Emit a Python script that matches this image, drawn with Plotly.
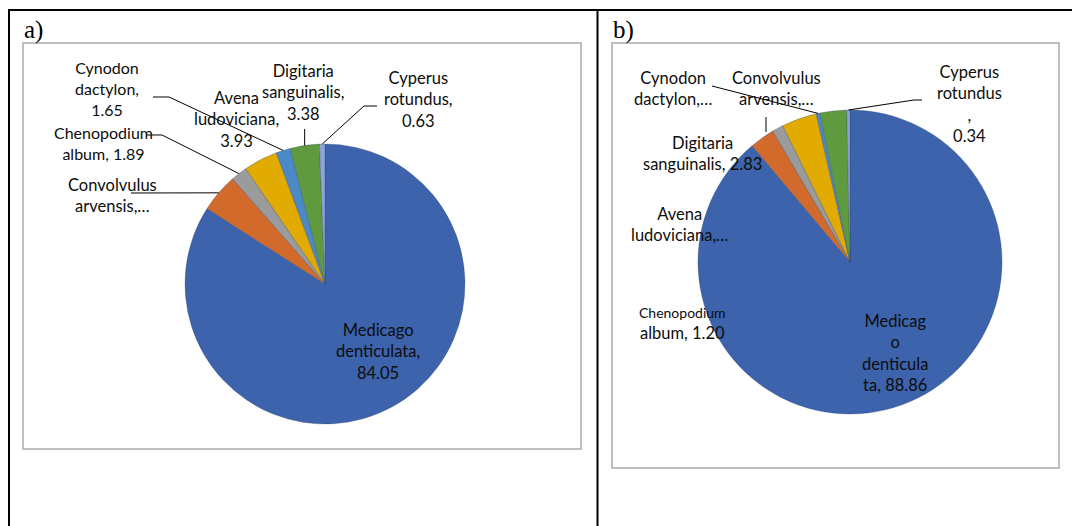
import math
import plotly.graph_objects as go

# ---------------- data ----------------
species = ["Medicago denticulata", "Convolvulus arvensis", "Chenopodium album",
           "Avena ludoviciana", "Cynodon dactylon", "Digitaria sanguinalis",
           "Cyperus rotundus"]
values_a = [84.05, 4.47, 1.89, 3.93, 1.65, 3.38, 0.63]
values_b = [88.86, 2.65, 1.20, 3.72, 0.40, 2.83, 0.34]
colors = ["#3C63AB", "#D26A2C", "#9B9B9B", "#E2AB02", "#4B8AC6", "#5F9A3F", "#8FA4D8"]
panel_titles = ["a)", "b)"]

# the page body has an 8px margin, so the figure is drawn 8px in from the window edge
OFF = 8
W, H = 1080 - OFF, 526 - OFF
FONT = "Lato"


def px(x):
    return (x - OFF) / W


def py(y):
    return 1 - (y - OFF) / H


# pie geometry (window pixels): centre x, centre y, radius
GEOM = {"a": (325, 284, 140), "b": (850, 262, 152)}


def domain(g):
    cx, cy, r = g
    return dict(x=[px(cx - r), px(cx + r)], y=[py(cy + r), py(cy - r)])


def edge_point(g, vals, idx, rf=1.0):
    """Point on the pie rim at the middle of slice idx (clockwise from 12 o'clock)."""
    cx, cy, r = g
    tot = sum(vals)
    cum = sum(vals[:idx]) + vals[idx] / 2
    ang = 2 * math.pi * cum / tot
    return cx + rf * r * math.sin(ang), cy - rf * r * math.cos(ang)


fig = go.Figure()
for key, vals in (("a", values_a), ("b", values_b)):
    fig.add_trace(go.Pie(
        labels=species, values=vals, sort=False, direction="clockwise", rotation=0,
        marker=dict(colors=colors, line=dict(color="rgba(50,70,110,0.55)", width=0.6)),
        textinfo="none", hoverinfo="label+value", domain=domain(GEOM[key]),
        showlegend=False,
    ))

shapes = []
# table borders
blk = dict(color="black", width=2)
shapes.append(dict(type="line", xref="paper", yref="paper", x0=px(8), x1=1, y0=py(10), y1=py(10), line=blk))
shapes.append(dict(type="line", xref="paper", yref="paper", x0=px(9), x1=px(9), y0=py(9), y1=0, line=blk))
shapes.append(dict(type="line", xref="paper", yref="paper", x0=px(597.5), x1=px(597.5), y0=py(9), y1=0, line=blk))
# chart-area boxes
gry = dict(color="#ABABAB", width=1.5)
shapes.append(dict(type="rect", xref="paper", yref="paper", x0=px(23), x1=px(581), y0=py(449), y1=py(43), line=gry))
shapes.append(dict(type="rect", xref="paper", yref="paper", x0=px(612), x1=px(1059), y0=py(468), y1=py(43), line=gry))


def leader(points):
    d = "M " + " L ".join(f"{px(x):.5f},{py(y):.5f}" for x, y in points)
    shapes.append(dict(type="path", xref="paper", yref="paper", path=d,
                       line=dict(color="black", width=1)))


ga, gb = GEOM["a"], GEOM["b"]
# panel a leader lines
leader([(153, 97), (169, 97), edge_point(ga, values_a, 4)])
leader([(146, 135), (162, 135), edge_point(ga, values_a, 2)])
leader([(131, 193), edge_point(ga, values_a, 1)])
leader([(edge_point(ga, values_a, 5)[0], 129), edge_point(ga, values_a, 5)])
leader([(377, 106), (364, 106), edge_point(ga, values_a, 6)])
# panel b leader lines
leader([(712, 86), edge_point(gb, values_b, 4)])
leader([(922, 100), (914, 100), edge_point(gb, values_b, 6)])
leader([(766, 117), (766, 132)])

annotations = []


def label(x, y, text, size=16.5):
    annotations.append(dict(x=px(x), y=py(y), xref="paper", yref="paper", text=text,
                            showarrow=False, xanchor="center", yanchor="middle", align="center",
                            font=dict(family=FONT, size=size, color="#0d0d0d")))


def f(v):
    return f"{v:.2f}"


va, vb = values_a, values_b
# panel a labels
label(107, 88, f"Cynodon<br>dactylon,<br>{f(va[4])}", 16)
label(236, 119, f"Avena<br>ludoviciana,<br>{f(va[3])}")
label(303, 92, f"Digitaria<br>sanguinalis,<br>{f(va[5])}")
label(418, 100, f"Cyperus<br>rotundus,<br>{f(va[6])}")
label(103, 143, f"Chenopodium<br>album, {f(va[2])}", 16)
label(112, 195, "Convolvulus<br>arvensis,…")
label(378, 351, f"Medicago<br>denticulata,<br>{f(va[0])}")
# panel b labels
label(673, 88, "Cynodon<br>dactylon,…")
label(776, 88, "Convolvulus<br>arvensis,…")
label(969, 104, f"Cyperus<br>rotundus<br>,<br>{f(vb[6])}")
label(702, 153, f"Digitaria<br>sanguinalis, {f(vb[5])}")
label(680, 225, "Avena<br>ludoviciana,…")
label(682, 323, f"<span style='font-size:14px'>Chenopodium</span><br>album, {f(vb[2])}")
label(895, 353, f"Medicag<br>o<br>denticula<br>ta, {f(vb[0])}")

# panel titles
for (x, t) in ((22, panel_titles[0]), (611, panel_titles[1])):
    annotations.append(dict(x=px(x), y=py(30), xref="paper", yref="paper", text=t,
                            showarrow=False, xanchor="left", yanchor="middle",
                            font=dict(family="Liberation Serif", size=25, color="black")))

fig.update_layout(
    width=W, height=H, margin=dict(l=0, r=0, t=0, b=0),
    paper_bgcolor="white", plot_bgcolor="white",
    shapes=shapes, annotations=annotations, showlegend=False,
)
fig.write_html("out.html")
